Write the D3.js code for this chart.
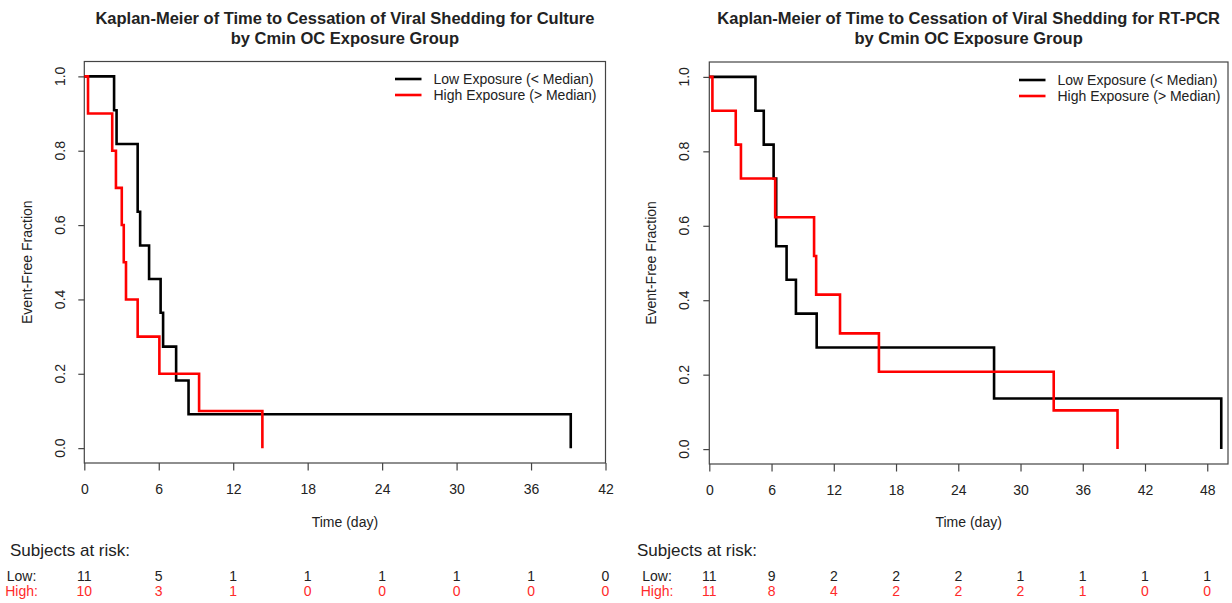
<!DOCTYPE html>
<html>
<head>
<meta charset="utf-8">
<script src="https://cdn.jsdelivr.net/npm/d3@7"></script>
<style>
  html, body { margin: 0; padding: 0; background: #fff; }
  svg { display: block; font-family: "Liberation Sans", Arial, sans-serif; }
</style>
</head>
<body>
<svg id="chart" width="1232" height="603"></svg>
<script>
// ---- Kaplan-Meier estimates (time in days, event-free fraction) ----
const cultureLowTime  = [0, 2.4, 2.6, 4.3, 4.5, 5.22, 6.15, 6.35, 7.4, 8.4, 39.2];
const cultureLowSurv  = [1, 0.909, 0.818, 0.636, 0.545, 0.455, 0.364, 0.273, 0.182, 0.091, 0];
const cultureHighTime = [0, 0.3, 2.25, 2.55, 3.02, 3.18, 3.36, 4.3, 6.05, 9.25, 14.35];
const cultureHighSurv = [1, 0.9, 0.8, 0.7, 0.6, 0.5, 0.4, 0.3, 0.2, 0.1, 0];

const pcrLowTime  = [0, 4.45, 5.25, 6.2, 6.45, 7.45, 8.35, 10.35, 27.45, 49.35];
const pcrLowSurv  = [1, 0.909, 0.818, 0.727, 0.545, 0.455, 0.364, 0.273, 0.136, 0];
const pcrHighTime = [0, 0.3, 2.55, 3.05, 6.35, 10.1, 10.3, 12.6, 16.35, 33.2, 39.35];
const pcrHighSurv = [1, 0.909, 0.818, 0.727, 0.623, 0.519, 0.415, 0.311, 0.208, 0.104, 0];

// ---- Axis ticks ----
const cultureTicks = [0, 6, 12, 18, 24, 30, 36, 42];
const pcrTicks     = [0, 6, 12, 18, 24, 30, 36, 42, 48];
const survTicks    = [0, 0.2, 0.4, 0.6, 0.8, 1.0];

// ---- Subjects at risk at each x tick ----
const cultureLowRisk  = [11, 5, 1, 1, 1, 1, 1, 0];
const cultureHighRisk = [10, 3, 1, 0, 0, 0, 0, 0];
const pcrLowRisk  = [11, 9, 2, 2, 2, 1, 1, 1, 1];
const pcrHighRisk = [11, 8, 4, 2, 2, 2, 1, 0, 0];

// ---- Labels ----
const cultureTitle = ["Kaplan-Meier of Time to Cessation of Viral Shedding for Culture", "by Cmin OC Exposure Group"];
const pcrTitle     = ["Kaplan-Meier of Time to Cessation of Viral Shedding for RT-PCR", "by Cmin OC Exposure Group"];
const legendLabels = ["Low Exposure (< Median)", "High Exposure (> Median)"];
const riskRowLabels = ["Low:", "High:"];

const BLACK = "#000000", RED = "#ff0000", AXIS = "#444", TEXT = "#222", RED_TEXT = "#ff2a2a";

const svg = d3.select("#chart");

function zip(ts, vs) { return ts.map((t, i) => ({ t, v: vs[i] })); }

function drawPanel(p) {
  const g = svg.append("g");
  const x = d3.scaleLinear().domain([0, p.xMax]).range([p.left, p.right]);
  const y = d3.scaleLinear().domain([-0.04, 1.04]).range([p.bottom, p.top]);
  const cx = (p.left + p.right) / 2;

  // titles
  p.title.forEach((line, i) => {
    g.append("text").attr("x", cx).attr("y", 18.5 + i * 20).attr("dy", "0.36em")
      .attr("text-anchor", "middle").attr("font-size", 16.5).attr("font-weight", "bold")
      .attr("fill", TEXT).text(line);
  });

  // plot frame
  g.append("rect").attr("x", p.left).attr("y", p.top)
    .attr("width", p.right - p.left).attr("height", p.bottom - p.top)
    .attr("fill", "none").attr("stroke", AXIS).attr("stroke-width", 1.2);

  // x axis
  const xAxis = g.append("g").attr("transform", `translate(0,${p.bottom})`)
    .call(d3.axisBottom(x).tickValues(p.xTicks).tickSize(7.5).tickPadding(14).tickSizeOuter(0));
  xAxis.select(".domain").remove();
  xAxis.selectAll("line").attr("stroke", AXIS).attr("stroke-width", 1.2);
  xAxis.selectAll("text").attr("font-size", 14).attr("fill", TEXT).attr("font-family", "Liberation Sans, Arial, sans-serif");

  // y axis (labels rotated)
  const yAxis = g.append("g").attr("transform", `translate(${p.left},0)`)
    .call(d3.axisLeft(y).tickValues(survTicks).tickSize(6).tickFormat(d3.format(".1f")).tickSizeOuter(0));
  yAxis.select(".domain").remove();
  yAxis.selectAll("line").attr("stroke", AXIS).attr("stroke-width", 1.2);
  yAxis.selectAll("text").remove();
  survTicks.forEach(v => {
    g.append("text").attr("transform", `translate(${p.yTickX},${y(v)}) rotate(-90)`)
      .attr("dy", "0.35em").attr("text-anchor", "middle")
      .attr("font-size", 14).attr("fill", TEXT).text(d3.format(".1f")(v));
  });

  // axis titles
  g.append("text").attr("x", cx).attr("y", 522).attr("dy", "0.35em")
    .attr("text-anchor", "middle").attr("font-size", 14).attr("fill", TEXT).text("Time (day)");
  g.append("text").attr("transform", `translate(${p.yLabelX},${(p.top + p.bottom) / 2}) rotate(-90)`)
    .attr("dy", "0.35em").attr("text-anchor", "middle")
    .attr("font-size", 14).attr("fill", TEXT).text("Event-Free Fraction");

  // survival curves
  const line = d3.line().x(d => x(d.t)).y(d => y(d.v)).curve(d3.curveStepAfter);
  p.series.forEach(s => {
    g.append("path").datum(zip(s.time, s.surv))
      .attr("d", line).attr("fill", "none")
      .attr("stroke", s.color).attr("stroke-width", 2.6)
      .attr("stroke-linejoin", "miter").attr("stroke-linecap", "butt");
  });

  // legend
  p.series.forEach((s, i) => {
    const ly = p.legendY + i * 16;
    g.append("line").attr("x1", p.legendX).attr("x2", p.legendX + 26.5)
      .attr("y1", ly).attr("y2", ly).attr("stroke", s.color).attr("stroke-width", 2.6);
    g.append("text").attr("x", p.legendX + 38.5).attr("y", ly).attr("dy", "0.35em")
      .attr("font-size", 14).attr("fill", TEXT).text(legendLabels[i]);
  });

  // subjects at risk table
  g.append("text").attr("x", p.riskTitleX).attr("y", 550).attr("dy", "0.35em")
    .attr("font-size", 17).attr("fill", TEXT).text("Subjects at risk:");
  p.series.forEach((s, i) => {
    const ry = 576 + i * 15.5;
    const col = i === 0 ? TEXT : RED_TEXT;
    g.append("text").attr("x", p.riskLabelX).attr("y", ry).attr("dy", "0.35em")
      .attr("text-anchor", "middle").attr("font-size", 14).attr("fill", col).text(riskRowLabels[i]);
    g.selectAll(null).data(s.risk).join("text")
      .attr("x", (d, j) => x(p.xTicks[j])).attr("y", ry).attr("dy", "0.35em")
      .attr("text-anchor", "middle").attr("font-size", 14).attr("fill", col)
      .text(d => d);
  });
}

drawPanel({
  left: 84.3, right: 605.5, top: 61.5, bottom: 463, xMax: 42,
  xTicks: cultureTicks, title: cultureTitle,
  yTickX: 60, yLabelX: 27,
  legendX: 395, legendY: 79,
  riskTitleX: 10, riskLabelX: 21.5,
  series: [
    { time: cultureLowTime, surv: cultureLowSurv, color: BLACK, risk: cultureLowRisk },
    { time: cultureHighTime, surv: cultureHighSurv, color: RED, risk: cultureHighRisk }
  ]
});

drawPanel({
  left: 709.3, right: 1228, top: 62, bottom: 464, xMax: 50,
  xTicks: pcrTicks, title: pcrTitle,
  yTickX: 684, yLabelX: 651,
  legendX: 1019, legendY: 80,
  riskTitleX: 637, riskLabelX: 657,
  series: [
    { time: pcrLowTime, surv: pcrLowSurv, color: BLACK, risk: pcrLowRisk },
    { time: pcrHighTime, surv: pcrHighSurv, color: RED, risk: pcrHighRisk }
  ]
});
</script>
</body>
</html>
